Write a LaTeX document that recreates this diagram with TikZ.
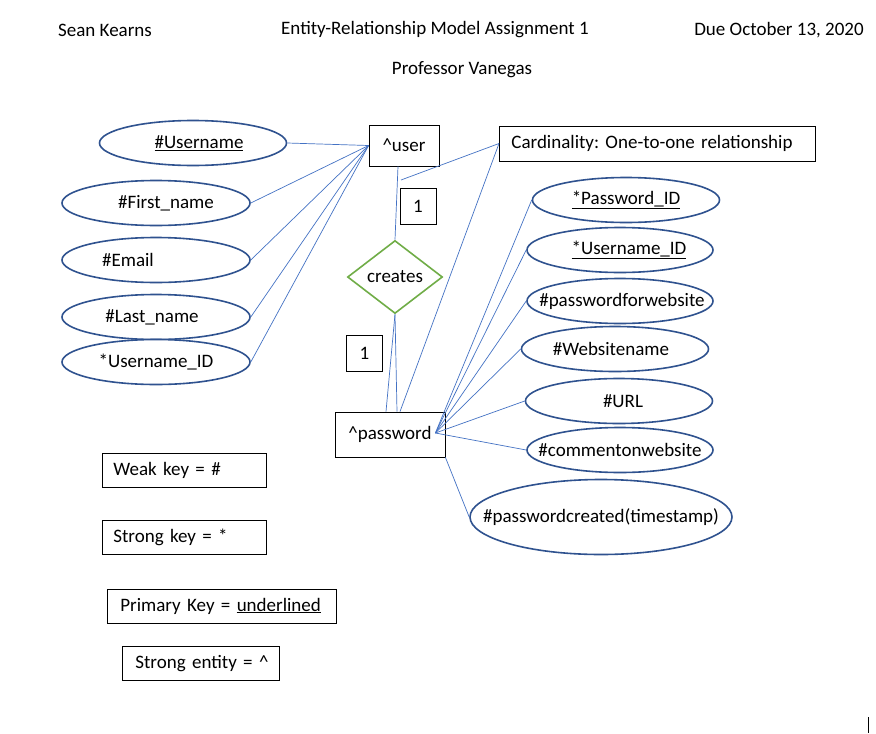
\documentclass[tikz,border=0pt]{standalone}
\usepackage{fontspec}
\setmainfont{Carlito}
\usetikzlibrary{shapes.geometric}
\definecolor{attrblue}{RGB}{47,82,143}
\definecolor{linkblue}{RGB}{68,114,196}
\definecolor{relgreen}{RGB}{112,173,71}
\frenchspacing
% attribute text must not widen its ellipse
\newcommand{\attrtext}[1]{\makebox[0pt]{#1}}

\begin{document}
\begin{tikzpicture}[x=1pt, y=-1pt, font=\fontsize{19}{22}\selectfont]
      \tikzstyle{attr}=[ellipse, draw=attrblue, line width=1.6pt, fill=white, minimum width=187pt, minimum height=45pt, inner sep=0pt]
      \tikzstyle{entity}=[rectangle, draw=black, line width=0.8pt, fill=white, inner sep=0pt]
      \tikzstyle{rel}=[diamond, draw=relgreen, line width=1.6pt, fill=white, aspect=1.3, minimum width=95pt, minimum height=73pt, inner sep=0pt]
      \tikzstyle{link}=[draw=linkblue, line width=0.7pt]
      \tikzstyle{keybox}=[entity, anchor=west, align=left, minimum height=34pt]
      \tikzstyle{count}=[entity, minimum width=36pt, minimum height=36pt]

      \path[fill=white] (0,0) rectangle (876,734);
      \useasboundingbox (0,0) rectangle (876,734);

      % Heading
      \node (AUTHOR) at (105,30) {Sean Kearns};
      \node (TITLE) at (435,30) {Entity-Relationship Model Assignment 1};
      \node (DUE) at (779,30) {Due October 13, 2020};
      \node (PROF) at (462,70) {Professor Vanegas};

      % Entities and relationship
      \node[entity, minimum width=70pt, minimum height=41pt] (USER) at (404,145.5) {\textasciicircum user};
      \node[entity, minimum width=110pt, minimum height=45pt] (PASS) at (390,434.5) {\textasciicircum password};
      \node[rel] (REL) at (395,277) {creates};
      \node[entity, anchor=west, align=left, text width=292pt, inner xsep=12pt, minimum height=35pt] (CARD) at (499,143.5) {Cardinality: One-to-one relationship};
      \node[count] (C-1) at (418,206) {1};
      \node[count] (C-2) at (364.5,353) {1};

      % Attributes of user
      \node[attr] (U-1) at (193,143) {\attrtext{\hspace*{12pt}\underline{\#Username}}};
      \node[attr, minimum width=188pt] (U-2) at (156,203) {\attrtext{\hspace*{20pt}\#First\_name}};
      \node[attr, minimum width=188pt] (U-3) at (156,260) {\attrtext{\#Email\hspace*{56pt}}};
      \node[attr, minimum width=188pt] (U-4) at (156,317) {\attrtext{\#Last\_name\hspace*{8pt}}};
      \node[attr, minimum width=188pt] (U-5) at (156,362) {\attrtext{*Username\_ID}};

      % Attributes of password
      \node[attr] (P-1) at (626,200) {\attrtext{\underline{*Password\_ID}}};
      \node[attr, minimum width=186pt] (P-2) at (620,250) {\attrtext{\hspace*{18pt}\underline{*Username\_ID}}};
      \node[attr, minimum width=186pt] (P-3) at (620,301) {\attrtext{\hspace*{4pt}\#passwordforwebsite}};
      \node[attr] (P-4) at (615,349) {\attrtext{\#Websitename\hspace*{8pt}}};
      \node[attr] (P-5) at (619,401) {\attrtext{\hspace*{8pt}\#URL}};
      \node[attr, minimum width=186pt] (P-6) at (620,450) {\attrtext{\#commentonwebsite}};
      \node[attr, minimum width=262pt, minimum height=75pt] (P-7) at (601,517) {\attrtext{\#passwordcreated(timestamp)}};

      % Connectors
      \coordinate (HUB) at ([xshift=-10pt,yshift=1.5pt]PASS.east);
      \coordinate (CARD-TAIL) at (401,180);
      \foreach \i in {1,...,5}
          \draw[link] (USER.west) -- (U-\i.east);
      \foreach \i in {1,...,6}
          \draw[link] (HUB) -- (P-\i.west);
      \draw[link] (PASS.south east) -- (P-7.west);
      \draw[link] ([xshift=-6pt]USER.south) -- (REL.north);
      \draw[link] (REL.south) -- ([xshift=-4pt]PASS.north);
      \draw[link] (REL.south) -- ([xshift=7pt]PASS.north);
      \draw[link] (CARD-TAIL) -- (CARD.west);
      \draw[link] (CARD.west) -- ([xshift=10pt]PASS.north);

      % Legend
      \node[keybox, text width=142pt, inner xsep=11pt] (WEAK) at (102,470) {Weak key = \#};
      \node[keybox, text width=142pt, inner xsep=11pt] (STRONG) at (102,537.5) {Strong key = *};
      \node[keybox, text width=203pt, inner xsep=13pt] (PRIMARY) at (107,606) {Primary Key = \underline{underlined}};
      \node[keybox, text width=141pt, inner xsep=8pt] (ENTITY) at (122,663.5) {\mbox{\hspace*{5pt}Strong entity = \textasciicircum}};

      \draw[line width=1pt] (868,717) -- (868,733);
\end{tikzpicture}
\end{document}
